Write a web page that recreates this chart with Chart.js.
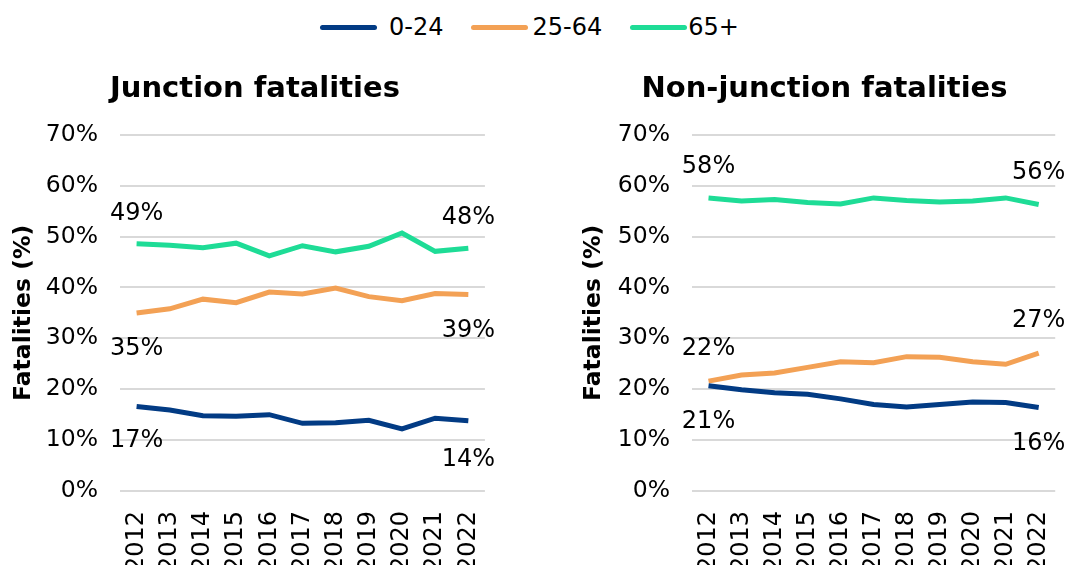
<!DOCTYPE html>
<html>
<head>
<meta charset="utf-8">
<script src="https://cdn.jsdelivr.net/npm/chart.js@4/dist/chart.umd.min.js"></script>
<style>
    body { margin: 0; width: 1091px; height: 565px; overflow: hidden; background: #fff; position: relative; font-family: "DejaVu Sans", sans-serif; }
    #legend { position: absolute; top: 10px; left: 320px; height: 34px; display: flex; align-items: center; font-size: 24px; color: #000; }
    .item { display: flex; align-items: center; }
    .swatch { width: 57px; height: 5px; border-radius: 3px; }
    .box { position: absolute; top: 50px; }
</style>
</head>
<body>
<div id="legend"></div>
<div class="box" style="left:0px"><canvas id="junction" width="510" height="530"></canvas></div>
<div class="box" style="left:570px"><canvas id="nonJunction" width="510" height="530"></canvas></div>
<script>
const years = ["2012", "2013", "2014", "2015", "2016", "2017", "2018", "2019", "2020", "2021", "2022"];
const seriesNames = ["0-24", "25-64", "65+"];
const seriesColors = ["#023b84", "#f3a155", "#1edc96"];

// Junction fatalities (%)
const junctionYoung = [16.6, 15.9, 14.8, 14.7, 15.0, 13.3, 13.4, 13.9, 12.2, 14.3, 13.8];
const junctionAdult = [35.0, 35.8, 37.7, 37.0, 39.1, 38.7, 39.9, 38.2, 37.4, 38.8, 38.6];
const junctionOld = [48.6, 48.3, 47.8, 48.7, 46.2, 48.2, 47.0, 48.1, 50.7, 47.1, 47.7];

// Non-junction fatalities (%)
const nonJunctionYoung = [20.7, 19.9, 19.3, 19.0, 18.1, 17.0, 16.5, 17.0, 17.5, 17.4, 16.4];
const nonJunctionAdult = [21.6, 22.8, 23.2, 24.3, 25.4, 25.2, 26.4, 26.3, 25.4, 24.9, 27.1];
const nonJunctionOld = [57.6, 57.0, 57.3, 56.7, 56.4, 57.6, 57.1, 56.8, 57.0, 57.6, 56.3];

const yTicks = [0, 10, 20, 30, 40, 50, 60, 70];

// legend (spacing copied from the original, which is uneven)
const swatchGap = [12, 4, 1];
const itemGap = [28, 28, 0];
const legend = document.getElementById("legend");
seriesNames.forEach((name, i) => {
    const item = document.createElement("div");
    item.className = "item";
    item.style.marginRight = itemGap[i] + "px";
    item.innerHTML = '<span class="swatch" style="background:' + seriesColors[i] +
        ';margin-right:' + swatchGap[i] + 'px"></span>' + name;
    legend.appendChild(item);
});

// end-point value labels: vertical offset for [first, last] point, per series
const endLabels = {
    id: "endLabels",
    afterDatasetsDraw(chart, args, opts) {
        const ctx = chart.ctx;
        ctx.save();
        ctx.font = "24px 'DejaVu Sans'";
        ctx.fillStyle = "#000";
        ctx.textAlign = "center";
        ctx.textBaseline = "middle";
        chart.data.datasets.forEach((ds, i) => {
            const pts = chart.getDatasetMeta(i).data;
            [0, pts.length - 1].forEach((p, k) => {
                const pt = pts[p];
                ctx.fillText(Math.round(ds.data[p]) + "%", pt.x, pt.y + opts.dy[i][k]);
            });
        });
        ctx.restore();
    }
};

function makeChart(id, title, values, dy, pad, yWidth, yTitleShift) {
    const ctx = document.getElementById(id).getContext("2d");
    return new Chart(ctx, {
        type: "line",
        data: {
            labels: years,
            datasets: values.map((v, i) => ({
                label: seriesNames[i],
                data: v,
                borderColor: seriesColors[i],
                backgroundColor: seriesColors[i],
                borderWidth: 5,
                pointRadius: 0,
                tension: 0
            }))
        },
        options: {
            responsive: false,
            animation: false,
            layout: { padding: { left: pad[0], right: pad[1], top: 0, bottom: 0 } },
            plugins: {
                legend: { display: false },
                tooltip: { enabled: false },
                title: {
                    display: true,
                    text: title,
                    color: "#000",
                    font: { family: "DejaVu Sans", size: 29, weight: "bold" },
                    padding: { top: 22, bottom: 28 }
                },
                endLabels: { dy: dy }
            },
            scales: {
                x: {
                    offset: true,
                    grid: { display: false },
                    border: { display: false },
                    afterFit: axis => { axis.height = 89; },
                    ticks: {
                        color: "#000",
                        maxRotation: 90,
                        minRotation: 90,
                        autoSkip: false,
                        padding: 12,
                        font: { family: "DejaVu Sans", size: 24 }
                    }
                },
                y: {
                    min: 0,
                    max: 70,
                    afterBuildTicks: axis => { axis.ticks = yTicks.map(v => ({ value: v })); },
                    afterFit: axis => { axis.width = yWidth; },
                    grid: { color: "#d9d9d9", lineWidth: 2, drawTicks: false },
                    border: { display: false },
                    title: {
                        display: true,
                        text: "Fatalities (%)",
                        color: "#000",
                        font: { family: "DejaVu Sans", size: 23.5, weight: "bold" },
                        padding: { top: yTitleShift, bottom: 0 }
                    },
                    ticks: {
                        color: "#000",
                        padding: 22,
                        font: { family: "DejaVu Sans", size: 23.5 },
                        callback: v => v + "%"
                    }
                }
            }
        },
        plugins: [endLabels]
    });
}

makeChart("junction", "Junction fatalities",
    [junctionYoung, junctionAdult, junctionOld],
    [[34, 39], [36, 36], [-30, -31]], [19, 19], 101, -9);

makeChart("nonJunction", "Non-junction fatalities",
    [nonJunctionYoung, nonJunctionAdult, nonJunctionOld],
    [[36, 36], [-32, -32], [-31, -32]], [10, 11], 112, 0);
</script>
</body>
</html>
